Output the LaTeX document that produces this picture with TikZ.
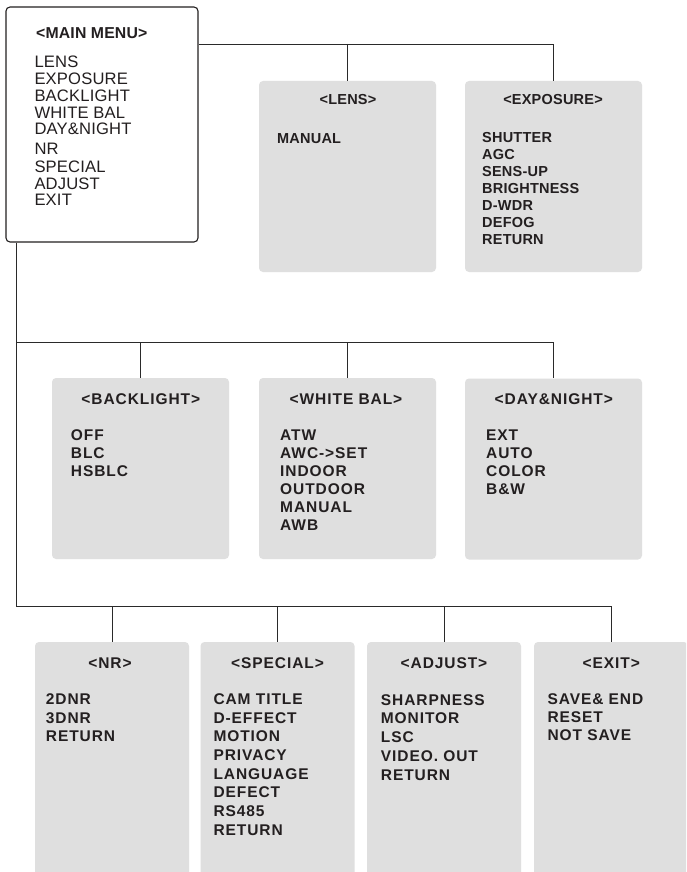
\documentclass[tikz,border=0pt]{standalone}
\usepackage{fontspec}
\setmainfont{Liberation Sans}
\newfontfamily\menufont[LetterSpace=1]{Liberation Sans}
\newfontfamily\topfont[LetterSpace=1.5]{Liberation Sans}
\newfontfamily\lowfont[LetterSpace=6]{Liberation Sans}
\definecolor{ink}{HTML}{231F20}
\definecolor{boxgray}{HTML}{DFDFDF}
\definecolor{wire}{HTML}{2A2A2A}
\begin{document}
\begin{tikzpicture}[x=1pt,y=-1pt,
  menubox/.style={draw=ink, line width=1.1pt, fill=white, rounded corners=4pt, minimum width=192pt, minimum height=235pt, inner sep=0pt},
  topbox/.style={fill=boxgray, rounded corners=4pt, inner sep=0pt, minimum width=177pt, minimum height=191pt},
  midbox/.style={fill=boxgray, rounded corners=4pt, inner sep=0pt, minimum width=177pt, minimum height=181pt},
  lowbox/.style={fill=boxgray, rounded corners=4pt, inner sep=0pt, minimum width=154pt, minimum height=260pt},
  wireline/.style={draw=wire, line width=0.9pt},
  mtitle/.style={font=\menufont\fontsize{15.8}{18}\selectfont\bfseries, text=ink, anchor=base west, inner sep=0pt},
  mitem/.style={font=\menufont\fontsize{16.6}{18}\selectfont, text=ink, anchor=base west, inner sep=0pt},
  ttitle/.style={font=\topfont\fontsize{14.5}{17}\selectfont\bfseries, text=ink, anchor=base, inner sep=0pt},
  titem/.style={font=\topfont\fontsize{14.5}{17}\selectfont\bfseries, text=ink, anchor=base west, inner sep=0pt},
  ltitle/.style={font=\lowfont\fontsize{15.5}{18}\selectfont\bfseries, text=ink, anchor=base, inner sep=0pt},
  litem/.style={font=\lowfont\fontsize{15.5}{18}\selectfont\bfseries, text=ink, anchor=base west, inner sep=0pt}
]
\clip (0,0) rectangle (686,872);
\fill[white] (0,0) rectangle (686,872);

% boxes
\node[menubox] (main) at (102,124.5) {};
\node[topbox] (lens) at (347.5,176.5) {};
\node[topbox] (expo) at (553.5,176.5) {};
\node[midbox] (back) at (140.5,468.5) {};
\node[midbox] (wbal) at (347.5,468.5) {};
\node[midbox] (dayn) at (553.5,469) {};
\node[lowbox] (nr) at (112,772) {};
\node[lowbox] (spec) at (277.5,772) {};
\node[lowbox] (adj) at (444,772) {};
\node[lowbox] (exit) at (611,772) {};

% connectors
\coordinate (jtop) at (347.5,44);
\coordinate (jmid) at (16,342);
\coordinate (jlow) at (16,606);
\draw[wireline] (main.east |- jtop) -| (expo.north);
\draw[wireline] (jtop) -- (lens.north);
\draw[wireline] (main.south -| jlow) -- (jlow) -| (exit.north);
\draw[wireline] (jmid) -| (dayn.north);
\draw[wireline] (back.north) -- (back.north |- jmid);
\draw[wireline] (wbal.north) -- (wbal.north |- jmid);
\draw[wireline] (nr.north) -- (nr.north |- jlow);
\draw[wireline] (spec.north) -- (spec.north |- jlow);
\draw[wireline] (adj.north) -- (adj.north |- jlow);

% main menu text
\node[mtitle] (mainT) at (36,38.7) {<MAIN MENU>};
\foreach \t/\yy [count=\i] in {LENS/67.5, EXPOSURE/84.5, BACKLIGHT/101.5, WHITE BAL/119, DAY\&NIGHT/135, NR/154, SPECIAL/172, ADJUST/189, EXIT/205.5}
  \node[mitem] (mainI\i) at (34.3,\yy) {\t};

% top row
\node[ttitle] (lensT) at (348,104.3) {<LENS>};
\node[titem] (lensI1) at (277,143.3) {MANUAL};
\node[ttitle] (expoT) at (553,104.3) {<EXPOSURE>};
\foreach \t [count=\i from 0] in {SHUTTER, AGC, SENS-UP, BRIGHTNESS, D-WDR, DEFOG, RETURN}
  \node[titem] (expoI\i) at (482,{142.7+16.9*\i}) {\t};

% middle row
\node[ltitle] (backT) at (140.8,404.3) {<BACKLIGHT>};
\foreach \t [count=\i from 0] in {OFF, BLC, HSBLC}
  \node[litem] (backI\i) at (70.7,{440+18*\i}) {\t};
\node[ltitle] (wbalT) at (346,404.3) {<WHITE BAL>};
\foreach \t [count=\i from 0] in {ATW, AWC->SET, INDOOR, OUTDOOR, MANUAL, AWB}
  \node[litem] (wbalI\i) at (280,{440+18*\i}) {\t};
\node[ltitle] (daynT) at (553.8,404.3) {<DAY\&NIGHT>};
\foreach \t [count=\i from 0] in {EXT, AUTO, COLOR, B\&W}
  \node[litem] (daynI\i) at (486,{440+18*\i}) {\t};

% bottom row
\node[ltitle] (nrT) at (110,668.3) {<NR>};
\foreach \t [count=\i from 0] in {2DNR, 3DNR, RETURN}
  \node[litem] (nrI\i) at (45.7,{704.3+18.7*\i}) {\t};
\node[ltitle] (specT) at (277.5,668.3) {<SPECIAL>};
\foreach \t [count=\i from 0] in {CAM TITLE, D-EFFECT, MOTION, PRIVACY, LANGUAGE, DEFECT, RS485, RETURN}
  \node[litem] (specI\i) at (213.3,{704.3+18.7*\i}) {\t};
\node[ltitle] (adjT) at (444,668.3) {<ADJUST>};
\foreach \t [count=\i from 0] in {SHARPNESS, MONITOR, LSC, VIDEO. OUT, RETURN}
  \node[litem] (adjI\i) at (380.7,{705+18.75*\i}) {\t};
\node[ltitle] (exitT) at (611.3,668.3) {<EXIT>};
\foreach \t [count=\i from 0] in {SAVE\& END, RESET, NOT SAVE}
  \node[litem] (exitI\i) at (547.3,{704.3+18.2*\i}) {\t};
\end{tikzpicture}
\end{document}
